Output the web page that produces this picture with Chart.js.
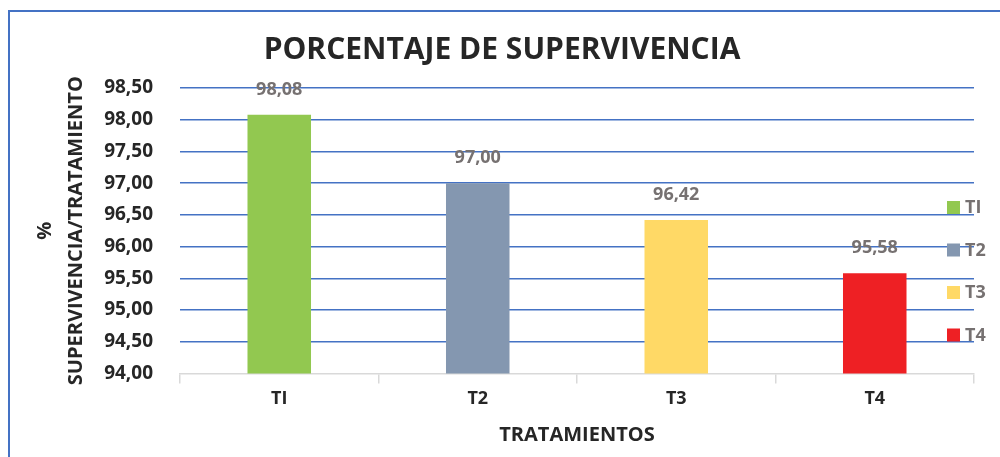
<!DOCTYPE html>
<html>
<head>
<meta charset="utf-8">
<script src="https://cdn.jsdelivr.net/npm/chart.js@4"></script>
<style>
  html, body { margin: 0; padding: 0; overflow: hidden; background: #fff; }
  #frame { position: absolute; left: 8px; top: 10px; width: 1100px; height: 600px;
           border-left: 2px solid #4472C4; border-top: 2px solid #4472C4; }
  #wrap { position: absolute; left: 0; top: 0; width: 1000px; height: 457px; }
</style>
</head>
<body>
<div id="frame"></div>
<div id="wrap"><canvas id="survivalChart" width="1000" height="457"></canvas></div>
<script>
const categories = ['TI', 'T2', 'T3', 'T4'];
const survival = [98.08, 97.00, 96.42, 95.58];
const barColors = ['#92C850', '#8497B0', '#FFD966', '#EE2024'];
const yMin = 94;
const yMax = 98.5;

const FONT = '"Open Sans", "DejaVu Sans", sans-serif';
const comma = v => v.toFixed(2).replace('.', ',');

// value labels above each bar
const valueLabels = {
  id: 'valueLabels',
  afterDatasetsDraw(chart) {
    const ctx = chart.ctx;
    const meta = chart.getDatasetMeta(0);
    ctx.save();
    ctx.font = 'bold 18px ' + FONT;
    ctx.fillStyle = '#767171';
    ctx.textAlign = 'center';
    ctx.textBaseline = 'middle';
    meta.data.forEach((bar, i) => {
      ctx.fillText(comma(survival[i]), bar.x, bar.y - 25);
    });
    ctx.restore();
  }
};

// legend drawn over the right end of the plot, like the original
const sideLegend = {
  id: 'sideLegend',
  afterDraw(chart) {
    const ctx = chart.ctx;
    const area = chart.chartArea;
    const x = area.right - 27;
    const startY = 207, step = 42.5;
    ctx.save();
    ctx.font = 'bold 18px ' + FONT;
    ctx.textBaseline = 'middle';
    categories.forEach((c, i) => {
      const y = startY + i * step;
      ctx.fillStyle = barColors[i];
      ctx.fillRect(x, y - 6, 13, 13);
      ctx.fillStyle = '#767171';
      ctx.fillText(c, x + 18, y + 1);
    });
    ctx.restore();
  }
};

new Chart(document.getElementById('survivalChart').getContext('2d'), {
  type: 'bar',
  data: {
    labels: categories,
    datasets: [{
      data: survival,
      backgroundColor: barColors,
      categoryPercentage: 1,
      barPercentage: 0.32
    }]
  },
  options: {
    responsive: false,
    animation: false,
    layout: { padding: { left: 30, right: 26, top: 0, bottom: 10 } },
    plugins: {
      legend: { display: false },
      tooltip: { enabled: false },
      title: {
        display: true,
        text: 'PORCENTAJE DE SUPERVIVENCIA',
        color: '#262626',
        font: { family: FONT, size: 30, weight: 'bold', lineHeight: 1.2 },
        padding: { top: 32, bottom: 20 }
      }
    },
    scales: {
      x: {
        offset: true,
        grid: { offset: true, drawOnChartArea: false, color: '#D9D9D9', tickLength: 10, lineWidth: 1.5 },
        border: { color: '#D9D9D9', width: 1.5 },
        ticks: { color: '#262626', font: { family: FONT, size: 18, weight: 'bold' }, padding: 5 },
        title: {
          display: true,
          text: 'TRATAMIENTOS',
          color: '#262626',
          font: { family: FONT, size: 20, weight: 'bold' },
          padding: { top: 8, bottom: 0 }
        }
      },
      y: {
        min: yMin,
        max: yMax,
        afterFit(scale) { scale.width = 150; },
        grid: {
          drawTicks: false,
          color: ctx => ctx.index === 0 ? 'rgba(0,0,0,0)' : '#4472C4',
          lineWidth: 1.5
        },
        border: { display: false },
        ticks: {
          stepSize: 0.5,
          padding: 27,
          color: '#262626',
          font: { family: FONT, size: 19, weight: 'bold' },
          callback: v => comma(v)
        },
        title: {
          display: true,
          text: ['%', 'SUPERVIVENCIA/TRATAMIENTO'],
          color: '#262626',
          font: { family: FONT, size: 20, weight: 'bold', lineHeight: 1.55 },
          padding: { top: 0, bottom: 0 }
        }
      }
    }
  },
  plugins: [valueLabels, sideLegend]
});
</script>
</body>
</html>
